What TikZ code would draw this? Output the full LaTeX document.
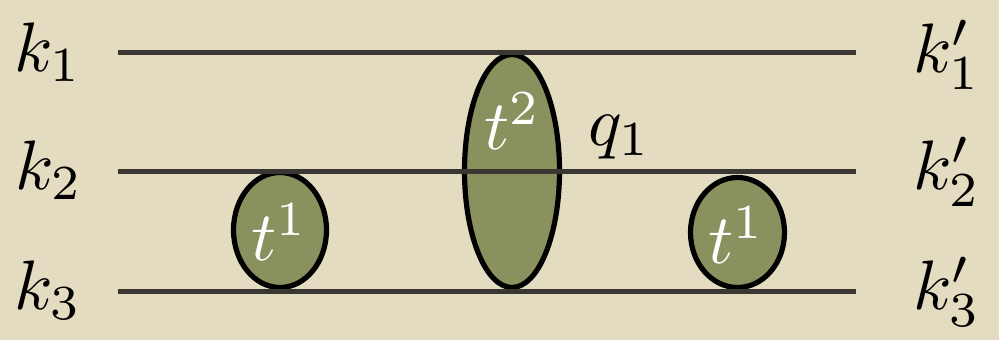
\documentclass[tikz,border=0pt]{standalone}
\usetikzlibrary{shapes.geometric}
\definecolor{bgc}{HTML}{E3DCC1}
\definecolor{linec}{HTML}{3A3732}
\definecolor{blob}{HTML}{8B915E}
\begin{document}
\begin{tikzpicture}[x=0.5pt,y=-0.5pt,
  lab/.style={inner sep=0pt, scale=3.5, text=black},
  wlab/.style={inner sep=0pt, scale=3.5, text=white},
  blobe/.style={ellipse, draw=black, fill=blob, line width=2.6pt, inner sep=0pt},
  track/.style={draw=linec, line width=2.5pt}]
\fill[bgc] (0,0) rectangle (999,340);
\useasboundingbox (0,0) rectangle (999,340);
% blobs
\node[blobe, minimum width=46.5pt, minimum height=57.5pt] (e1) at (280,230) {};
\node[blobe, minimum width=47.5pt, minimum height=116.5pt] (e2) at (512,171) {};
\node[blobe, minimum width=47pt, minimum height=55pt] (e3) at (737.5,232.5) {};
% track ends
\coordinate (l1) at (118,53);  \coordinate (r1) at (856,53);
\coordinate (l2) at (118,172); \coordinate (r2) at (856,172);
\coordinate (l3) at (118,292); \coordinate (r3) at (856,292);
\draw[track] (l1) -- (r1);
\draw[track] (l2) -- (r2);
\draw[track] (l3) -- (r3);
% labels
\node[lab] (k1) at (48,52) {$k_1$};
\node[lab] (k2) at (49,170) {$k_2$};
\node[lab] (k3) at (48,290) {$k_3$};
\node[lab] (k1p) at (947,55) {$k'_1$};
\node[lab] (k2p) at (947,172) {$k'_2$};
\node[lab] (k3p) at (947,292) {$k'_3$};
\node[lab] (q1) at (620,137) {$q_1$};
\node[wlab] (t1a) at (280,232) {$t^1$};
\node[wlab] (t2) at (513,121) {$t^2$};
\node[wlab] (t1b) at (737,235) {$t^1$};
\end{tikzpicture}
\end{document}
